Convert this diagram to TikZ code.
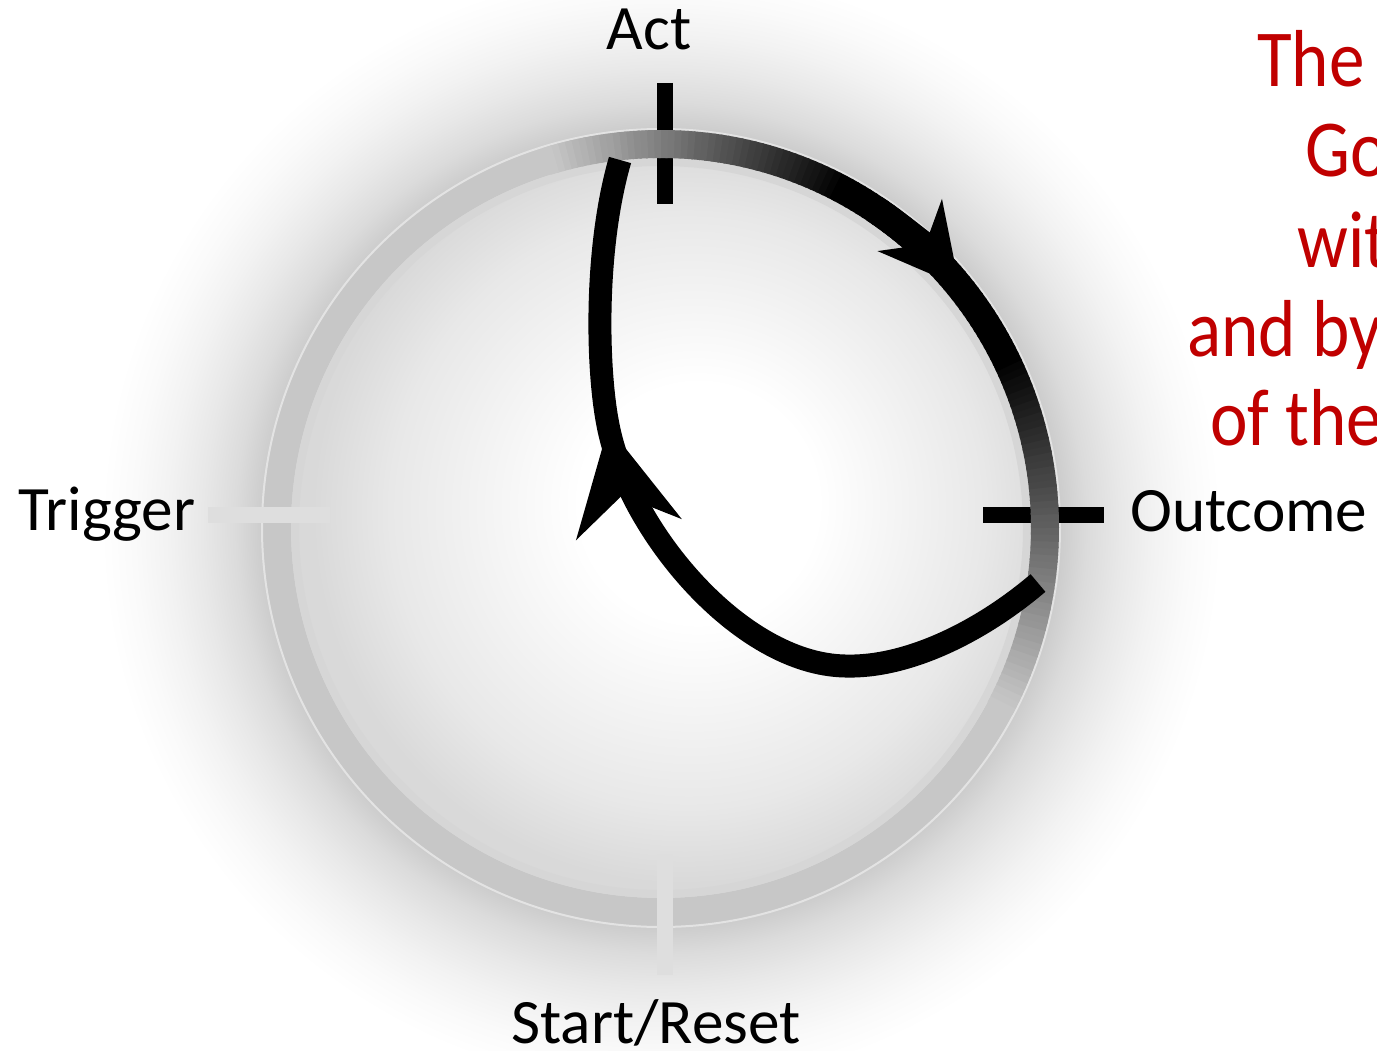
\documentclass[tikz,border=0pt]{standalone}
\usepackage{fontspec}
\setmainfont{Carlito}
\newfontfamily\notefont{Carlito}[FakeStretch=0.88]
\usetikzlibrary{arrows.meta,decorations.markings}
\definecolor{notered}{RGB}{192,0,0}
\pgfdeclareradialshading{glow}{\pgfpoint{0bp}{0bp}}{color(0bp)=(black!20); color(17.8bp)=(black!20); color(19bp)=(black!14); color(20.5bp)=(black!9); color(22bp)=(black!5); color(23.5bp)=(black!2); color(25bp)=(white); color(50bp)=(white)}
\pgfdeclareradialshading{dial}{\pgfpoint{3bp}{2bp}}{color(0bp)=(white); color(8bp)=(white); color(20bp)=(black!9); color(25bp)=(black!15); color(50bp)=(black!15)}

\begin{document}
\begin{tikzpicture}[x=0.02cm, y=-0.02cm,
dialtext/.style={font=\fontsize{36}{40}\selectfont, anchor=base, inner sep=0pt},
notetext/.style={font=\notefont\fontsize{46}{50}\selectfont, text=notered, anchor=base west, inner sep=0pt},
rimline/.style={line width=0.56cm},
tickdark/.style={line width=0.32cm, black},
ticklight/.style={line width=0.32cm, black!13},
flow/.style={line width=0.46cm, black},
midarrow/.style={postaction={decorate}, decoration={markings, mark=at position #1 with {\arrow{Stealth[length=2.1cm, width=2.16cm, inset=0.7cm, line width=0pt]}}}}]
\useasboundingbox[fill=white] (0,0) rectangle (1377,1051);
\coordinate (ctr) at (661,528);
% shadow, dial and rim
\shade[shading=glow] (ctr) circle (560);
\shade[shading=dial] (ctr) circle (372);
\draw[rimline, black!22] (ctr) circle (384);
\draw[line width=0.16cm, black!16] (ctr) circle (366);
\draw[line width=0.04cm, black!11] (ctr) circle (399);
% ticks
\draw[ticklight] (208,515) -- (330,515);
\draw[ticklight] (665,854) -- (665,975);
\draw[tickdark] (665,83) -- (665,204);
\draw[tickdark] (983,515) -- (1104,515);
% dark part of the rim
\foreach \a in {-28,-27,...,106}{
  \pgfmathtruncatemacro\d{max(22,min(100,22+(106-\a)*78/44,22+(\a+28)*78/53))}
  \pgfmathsetmacro\b{-\a}
  \draw[rimline, black!\d] (ctr) ++(\b:384) arc[start angle=\b, end angle=\b-1.3, radius=384];
}
\draw[rimline, black, -{Stealth[length=1.58cm, width=1.66cm, inset=0.5cm, line width=0pt]}] (ctr) ++(-56:384) arc[start angle=-56, end angle=-39, radius=384];
% way back
\coordinate (outEnd) at (1038,583);
\coordinate (actEnd) at (620,160);
\draw[flow, midarrow=0.68] (outEnd) .. controls (978,634) and (905,668) .. (845,666) .. controls (740,664) and (628,530) .. (608,425) .. controls (597,370) and (594,250) .. (actEnd);
% labels
\node[dialtext] (act) at (649,50) {Act};
\node[dialtext] (trigger) at (107,530) {Trigger};
\node[dialtext, anchor=base west] (outcome) at (1130,531) {Outcome};
\node[dialtext] (start) at (656,1043) {Start/Reset};
% cut note
\node[notetext] (n1) at (1257,87) {The};
\node[notetext] (n2) at (1305,176) {Go};
\node[notetext] (n3) at (1297,267) {wit};
\node[notetext] (n4) at (1187,356) {and by};
\node[notetext] (n5) at (1210,445) {of the};
\end{tikzpicture}
\end{document}
